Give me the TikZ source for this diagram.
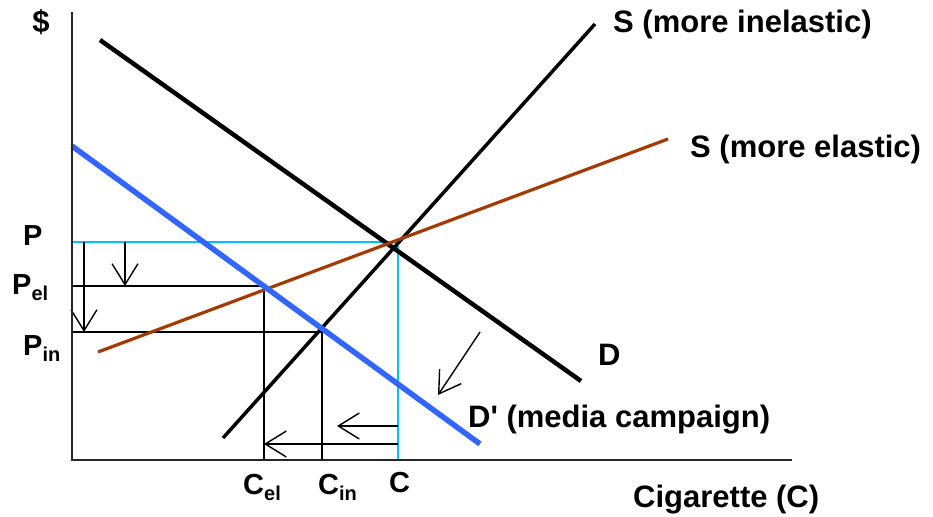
\documentclass[tikz,border=0pt]{standalone}
\usepackage{fontspec}
\setmainfont{Liberation Sans}
\usetikzlibrary{arrows.meta}

\definecolor{rustbrown}{RGB}{163,58,0}
\definecolor{mediablue}{RGB}{51,102,255}
\definecolor{pricecyan}{RGB}{0,191,255}

\newcommand{\lowsub}[1]{\raisebox{-6pt}{\fontsize{20pt}{20pt}\selectfont #1}}

\tikzset{
  axis/.style={draw=black!85, line width=1.6pt},
  demand/.style={draw=black, line width=4.5pt},
  supply/.style={draw=black, line width=3.5pt},
  elastic/.style={draw=rustbrown, line width=3.2pt},
  campaign/.style={draw=mediablue, line width=5.5pt},
  guide/.style={draw=black, line width=1.4pt},
  eqguide/.style={draw=pricecyan, line width=1.8pt},
  shiftarrow/.style={draw=black, line width=1.4pt, -{Straight Barb[length=21pt, width=26pt]}},
  lbl/.style={font=\bfseries\fontsize{29pt}{29pt}\selectfont, inner sep=0pt, anchor=base west},
  biglbl/.style={lbl, font=\bfseries\fontsize{31pt}{31pt}\selectfont}
}

\begin{document}
\begin{tikzpicture}[x=1pt, y=-1pt]
    \useasboundingbox (0,0) rectangle (933,516);

    % axes
    \coordinate (O) at (72,460);
    \coordinate (ytop) at (72,12);
    \coordinate (xend) at (792,460);

    % curve end points
    \coordinate (D1) at (100,40);
    \coordinate (D2) at (581,381);
    \coordinate (Sin1) at (223,438);
    \coordinate (Sin2) at (595,24);
    \coordinate (Sel1) at (98,352);
    \coordinate (Sel2) at (668,139);
    \coordinate (Dp1) at (72,146);
    \coordinate (Dp2) at (480,444);

    % equilibria
    \coordinate (P) at (72,242);
    \coordinate (E) at (398,242);
    \coordinate (C) at (398,460);
    \coordinate (Pel) at (72,286);
    \coordinate (Eel) at (264,286);
    \coordinate (Cel) at (264,460);
    \coordinate (Pin) at (72,332);
    \coordinate (Ein) at (322,332);
    \coordinate (Cin) at (322,460);

    % shift arrows
    \coordinate (a1) at (84,242);
    \coordinate (a2) at (84,332);
    \coordinate (b1) at (125,242);
    \coordinate (b2) at (125,286);
    \coordinate (c1) at (398,426);
    \coordinate (c2) at (337,426);
    \coordinate (d1) at (398,444);
    \coordinate (d2) at (264,444);
    \coordinate (e1) at (480,332);
    \coordinate (e2) at (438,395);

    \draw[guide] (Pel) -- (Eel) -- (Cel);
    \draw[guide] (Pin) -- (Ein) -- (Cin);
    \draw[eqguide] (P) -- (E) -- (C);

    \draw[shiftarrow] (a1) -- (a2);
    \draw[shiftarrow] (b1) -- (b2);
    \draw[shiftarrow] (c1) -- (c2);
    \draw[shiftarrow] (d1) -- (d2);
    \draw[shiftarrow] (e1) -- (e2);

    \draw[demand] (D1) -- (D2);
    \draw[supply] (Sin1) -- (Sin2);
    \draw[elastic] (Sel1) -- (Sel2);
    \draw[campaign] (Dp1) -- (Dp2);

    \draw[axis] (ytop) -- (O) -- (xend);

    % labels
    \node[biglbl, anchor=center] (dollar) at (41,22) {\$};
    \node[biglbl] (Sinlbl) at (613,33) {S (more inelastic)};
    \node[biglbl] (Sellbl) at (690,157) {S (more elastic)};
    \node[biglbl] (Dlbl) at (598,365) {D};
    \node[biglbl] (Dplbl) at (468,427) {D\textquotesingle{} (media campaign)};
    \node[biglbl] (xlbl) at (633,507) {Cigarette (C)};
    \node[lbl] (Plbl) at (23,245) {P};
    \node[lbl] (Pellbl) at (12,294) {P\lowsub{el}};
    \node[lbl] (Pinlbl) at (23,355) {P\lowsub{in}};
    \node[lbl] (Cellbl) at (243,494) {C\lowsub{el}};
    \node[lbl] (Cinlbl) at (318,494) {C\lowsub{in}};
    \node[lbl] (Clbl) at (389,492) {C};
\end{tikzpicture}
\end{document}
